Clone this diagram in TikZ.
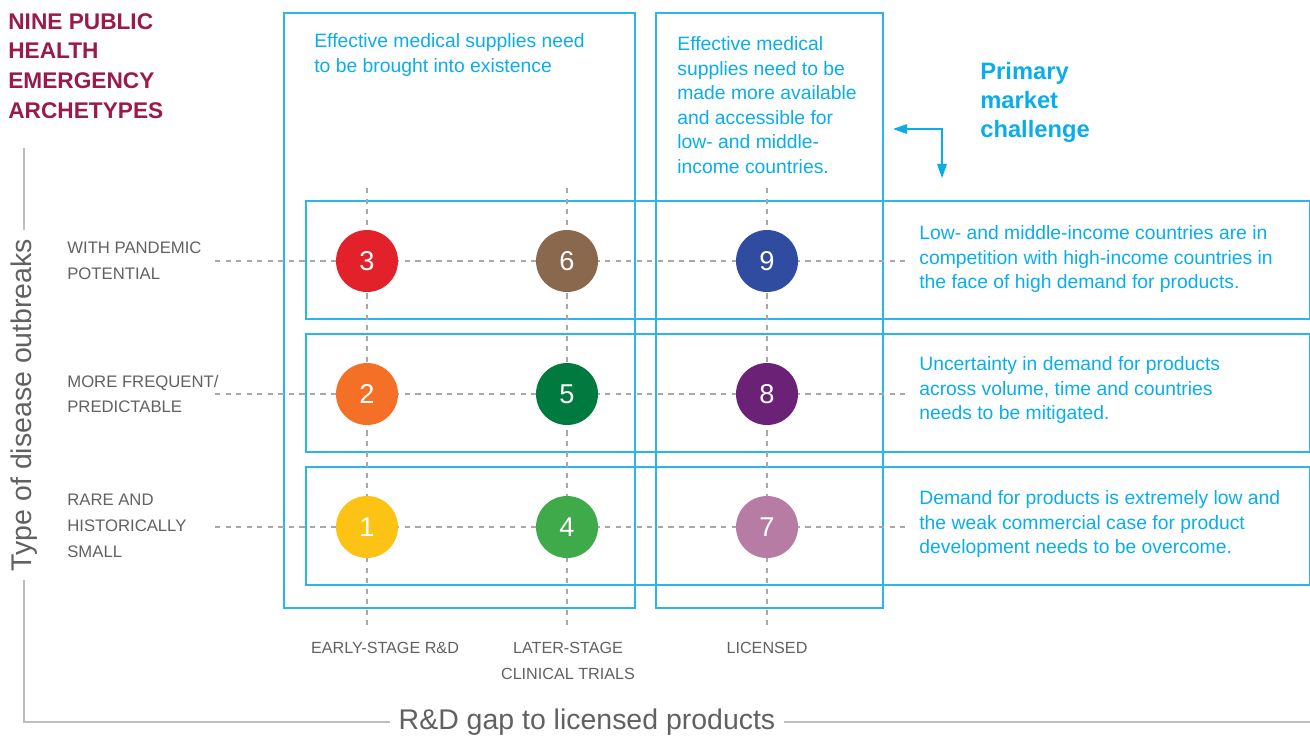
\documentclass[tikz,border=0pt]{standalone}
\usepackage{fontspec}
\setmainfont{Liberation Sans}
\usetikzlibrary{arrows.meta,positioning}
\definecolor{boxcyan}{HTML}{2BB6E9}
\definecolor{textcyan}{HTML}{0AADEA}
\definecolor{titlered}{HTML}{981B4C}
\definecolor{axisgray}{HTML}{BEBEBE}
\definecolor{dashgray}{HTML}{A8A8A8}
\definecolor{labelgray}{HTML}{616161}
\definecolor{dotone}{HTML}{FDC314}
\definecolor{dottwo}{HTML}{F37026}
\definecolor{dotthree}{HTML}{E3212B}
\definecolor{dotfour}{HTML}{3FAA49}
\definecolor{dotfive}{HTML}{007A3E}
\definecolor{dotsix}{HTML}{8A684D}
\definecolor{dotseven}{HTML}{B67CA4}
\definecolor{doteight}{HTML}{6B2175}
\definecolor{dotnine}{HTML}{2F4CA0}

\begin{document}
\begin{tikzpicture}[
    x=0.02cm, y=-0.02cm,
    frame/.style={draw=boxcyan, line width=0.9pt},
    guide/.style={draw=dashgray, line width=0.6pt, dash pattern=on 3pt off 3pt},
    dot/.style={circle, minimum size=1.24cm, inner sep=0, text=white, font=\fontsize{15.5}{15.5}\selectfont},
    note/.style={anchor=west, align=left, inner sep=0, text=textcyan, font=\fontsize{11}{14}\selectfont},
    rowlabel/.style={anchor=west, align=left, inner sep=0, text=labelgray, font=\fontsize{9.5}{14.7}\selectfont},
    collabel/.style={align=center, inner sep=0, text=labelgray, font=\fontsize{9.2}{14.7}\selectfont},
    axislabel/.style={fill=white, inner xsep=5pt, text=labelgray, font=\fontsize{16.2}{16.2}\selectfont}
]
    \useasboundingbox (0,0) rectangle (1310,738);

    \node[anchor=west, align=left, inner sep=0, text=titlered, font=\bfseries\fontsize{12.9}{17}\selectfont] (title) at (8,66) {NINE PUBLIC\\HEALTH\\EMERGENCY\\ARCHETYPES};

    \draw[frame] (284,13) rectangle (635,608);
    \draw[frame] (656,13) rectangle (883,608);
    \draw[frame] (306,201) rectangle (1310,319);
    \draw[frame] (306,334) rectangle (1310,452);
    \draw[frame] (306,467) rectangle (1310,585);

    \node[note] (gapnote) at (314,55) {Effective medical supplies need\\to be brought into existence};
    \node[note] (licnote) at (677,105) {Effective medical\\supplies need to be\\made more available\\and accessible for\\low- and middle-\\income countries.};

    \node[anchor=west, align=left, inner sep=0, text=textcyan, font=\bfseries\fontsize{13.5}{16.5}\selectfont] (primary) at (980,102) {Primary\\market\\challenge};
    \coordinate (pleft) at (893,129);
    \coordinate (pdown) at (942,178);
    \draw[textcyan, line width=0.8pt, {Triangle[length=8pt,width=5.5pt]}-{Triangle[length=8pt,width=5.5pt]}] (pleft) -| (pdown);

    \node[rowlabel] (pandemic) at (67,261) {WITH PANDEMIC\\POTENTIAL};
    \node[rowlabel] (frequent) at (67,394) {MORE FREQUENT/\\PREDICTABLE};
    \node[rowlabel] (rare) at (67,526) {RARE AND\\HISTORICALLY\\SMALL};

    \node[note] (demand) at (919,259) {Low- and middle-income countries are in\\competition with high-income countries in\\the face of high demand for products.};
    \node[note] (uncertain) at (919,390) {Uncertainty in demand for products\\across volume, time and countries\\needs to be mitigated.};
    \node[note] (low) at (919,524) {Demand for products is extremely low and\\the weak commercial case for product\\development needs to be overcome.};

    \node[collabel] (early) at (385,648) {EARLY-STAGE R\&D};
    \node[collabel] (later) at (568,661) {LATER-STAGE\\CLINICAL TRIALS};
    \node[collabel] (licensed) at (767,648) {LICENSED};

    \coordinate (h1a) at (215,261); \coordinate (h1b) at (905,261);
    \coordinate (h2a) at (215,394); \coordinate (h2b) at (905,394);
    \coordinate (h3a) at (215,527); \coordinate (h3b) at (905,527);
    \coordinate (v1a) at (367,188); \coordinate (v1b) at (367,625);
    \coordinate (v2a) at (567,188); \coordinate (v2b) at (567,625);
    \coordinate (v3a) at (767,188); \coordinate (v3b) at (767,625);
    \draw[guide] (h1a) -- (h1b); \draw[guide] (h2a) -- (h2b); \draw[guide] (h3a) -- (h3b);
    \draw[guide] (v1a) -- (v1b); \draw[guide] (v2a) -- (v2b); \draw[guide] (v3a) -- (v3b);

    \node[dot, fill=dotthree] (n3) at (367,261) {3};
    \node[dot, fill=dotsix] (n6) at (567,261) {6};
    \node[dot, fill=dotnine] (n9) at (767,261) {9};
    \node[dot, fill=dottwo] (n2) at (367,394) {2};
    \node[dot, fill=dotfive] (n5) at (567,394) {5};
    \node[dot, fill=doteight] (n8) at (767,394) {8};
    \node[dot, fill=dotone] (n1) at (367,527) {1};
    \node[dot, fill=dotfour] (n4) at (567,527) {4};
    \node[dot, fill=dotseven] (n7) at (767,527) {7};

    \coordinate (atop) at (24,148);
    \coordinate (acorner) at (24,722);
    \coordinate (aright) at (1310,722);
    \draw[axisgray, line width=1pt] (atop) -- (acorner) -- (aright);
    \node[axislabel, rotate=90] (typeaxis) at (24,405) {Type of disease outbreaks};
    \node[axislabel] (gapaxis) at (587,722) {R\&D gap to licensed products};
\end{tikzpicture}
\end{document}
